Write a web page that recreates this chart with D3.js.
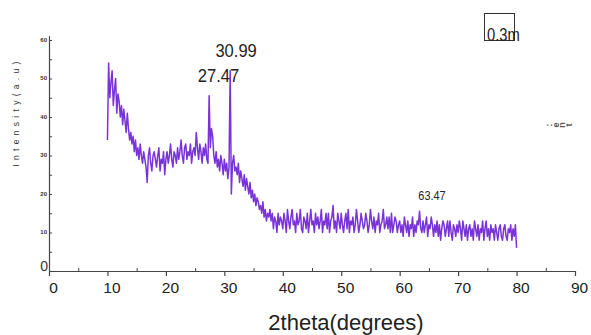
<!DOCTYPE html>
<html>
<head>
<meta charset="utf-8">
<script src="https://cdn.jsdelivr.net/npm/d3@7"></script>
<style>
  body { margin: 0; background: #fff; }
  svg { display: block; font-family: "Liberation Sans", Arial, sans-serif; }
</style>
</head>
<body>
<div id="chart"></div>
<script>
// 2theta scan, sampled every 0.2 degree starting at 10
const thetaStart = 10;
const thetaStep = 0.2;
const intensity = [
  34, 54, 45, 49, 52, 43, 47, 50, 41, 46,
  44, 40, 43, 38, 42, 39, 36, 41, 37, 34,
  36, 33, 35, 31, 34, 30, 32, 29, 33, 30,
  28, 31, 29, 27, 23, 30, 32, 28, 26, 30,
  31, 29, 27, 30, 32, 26, 29, 28, 31, 25,
  29, 31, 28, 30, 33, 29, 27, 31, 30, 28,
  32, 29, 31, 34, 30, 28, 32, 33, 29, 31,
  30, 33, 28, 31, 32, 30, 36, 32, 29, 33,
  31, 28, 32, 30, 33, 29, 28, 45.5, 32, 37,
  35, 30, 28, 31, 27, 29, 26, 30, 28, 25,
  29, 26, 28, 24, 27, 52, 20, 28, 30, 26,
  27, 25, 28, 23, 26, 24, 22, 25, 21, 24,
  22, 20, 23, 19, 21, 18, 20, 17, 19, 18,
  16, 17, 15, 18, 14, 16, 13, 15, 14, 16,
  13, 15, 11, 14, 13, 10, 15, 12, 14, 13,
  11, 15, 13, 10, 16, 13, 11, 14, 16, 12,
  13, 10, 15, 12, 13, 16, 11, 10, 14, 13,
  11, 15, 10, 13, 16, 12, 13, 10, 15, 12,
  14, 11, 13, 16, 10, 13, 12, 15, 11, 15,
  10, 13, 14, 17, 11, 13, 10, 15, 13, 11,
  15, 12, 10, 13, 15, 11, 16, 10, 13, 12,
  14, 10, 12, 16, 13, 10, 12, 15, 13, 11,
  12, 15, 13, 10, 12, 16, 13, 11, 14, 10,
  13, 12, 15, 10, 12, 13, 16, 11, 12, 14,
  11, 14, 10, 15, 10, 12, 14, 13, 10, 12,
  13, 10, 12, 9, 14, 12, 10, 13, 9, 12,
  11, 14, 9, 12, 10, 13, 12, 15.5, 11, 10,
  13, 10, 12, 14, 9, 12, 11, 14, 12, 9,
  12, 10, 13, 9, 12, 8, 11, 13, 12, 9,
  11, 13, 9, 13, 10, 8, 12, 11, 9, 12,
  10, 13, 11, 8, 13, 11, 9, 12, 8, 11,
  12, 9, 11, 8, 13, 11, 9, 12, 8, 11,
  10, 13, 8, 11, 13, 9, 11, 8, 12, 10,
  11, 8, 12, 10, 8, 11, 12, 9, 8, 11,
  12, 9, 8, 11, 10, 12, 8, 11, 9, 12,
  6
];

// peak labels
const peakTheta = [27.47, 30.99, 63.47];
const peakLabels = ['27.47', '30.99', '63.47'];
const peakLabelY = [49, 55.5, 18.5];

const xTicks = [0, 10, 20, 30, 40, 50, 60, 70, 80, 90];
const xMinorTicks = [5, 15, 25, 35, 45, 55, 65, 75, 85];
const yTicks = [0, 10, 20, 30, 40, 50, 60];
const yMinorTicks = [5, 15, 25, 35, 45, 55];

const width = 591;
const height = 335;

const x = d3.scaleLinear().domain([0, 90]).range([49, 575]);
const y = d3.scaleLinear().domain([0, 60]).range([271, 40]);

const points = intensity.map((v, i) => [thetaStart + i * thetaStep, v]);

const svg = d3.select('#chart')
  .append('svg')
  .attr('width', width)
  .attr('height', height);

// x axis, major ticks pointing down
const xAxis = svg.append('g')
  .attr('transform', `translate(0,${y(0)})`)
  .call(d3.axisBottom(x).tickValues(xTicks).tickSize(5).tickPadding(6).tickSizeOuter(0));
xAxis.select('.domain').attr('stroke', '#444').attr('stroke-width', 1.2);
xAxis.selectAll('.tick line').attr('stroke', '#444').attr('stroke-width', 1.2);
xAxis.selectAll('.tick text')
  .attr('font-size', 15.5)
  .attr('fill', '#222')
  .attr('dx', 4)
  .attr('font-family', '"Liberation Sans", Arial, sans-serif');

svg.append('g')
  .attr('transform', `translate(0,${y(0)})`)
  .call(d3.axisTop(x).tickValues(xMinorTicks).tickSize(3).tickFormat(''))
  .call(g => g.select('.domain').remove())
  .selectAll('.tick line').attr('stroke', '#444');

// y axis, ticks pointing inside
const yAxis = svg.append('g')
  .attr('transform', `translate(${x(0)},0)`)
  .call(d3.axisLeft(y).tickValues(yTicks).tickSize(-3).tickPadding(2).tickSizeOuter(0));
yAxis.select('.domain').attr('stroke', '#444').attr('stroke-width', 1.2)
  .attr('d', `M0.5,${y(0)}V${y(61)}`);
yAxis.selectAll('.tick line').attr('stroke', '#444');
yAxis.selectAll('.tick text')
  .attr('fill', '#333')
  .attr('font-family', '"Liberation Sans Narrow", "Liberation Sans", Arial, sans-serif')
  .attr('font-weight', d => d === 0 ? 'normal' : 'bold')
  .attr('font-size', d => d === 0 ? 14 : 6)
  .attr('dy', d => d === 0 ? '-0.05em' : '0.2em')
  .attr('x', d => d === 0 ? -1 : -2);

svg.append('g')
  .attr('transform', `translate(${x(0)},0)`)
  .call(d3.axisRight(y).tickValues(yMinorTicks).tickSize(3).tickFormat(''))
  .call(g => g.select('.domain').remove())
  .selectAll('.tick line').attr('stroke', '#444');

// the pattern
const line = d3.line()
  .x(d => x(d[0]))
  .y(d => y(d[1]));

svg.append('path')
  .datum(points)
  .attr('fill', 'none')
  .attr('stroke', '#7a33d9')
  .attr('stroke-width', 1.5)
  .attr('stroke-linejoin', 'round')
  .attr('d', line);

// peak labels
const peakDx = [9, 6, 12];
const peakSize = [19, 19, 12.5];
svg.selectAll('.peak')
  .data(peakTheta)
  .enter()
  .append('text')
  .attr('class', 'peak')
  .attr('x', (d, i) => x(d) + peakDx[i])
  .attr('y', (d, i) => y(peakLabelY[i]))
  .attr('text-anchor', 'middle')
  .attr('font-size', (d, i) => peakSize[i])
  .attr('fill', '#222')
  .attr('transform', (d, i) => {
    const px = x(d) + peakDx[i];
    const py = y(peakLabelY[i]);
    return `translate(${px},${py}) scale(0.87,1) translate(${-px},${-py})`;
  })
  .text((d, i) => peakLabels[i]);

// axis titles
svg.append('text')
  .attr('x', 346)
  .attr('y', 330)
  .attr('text-anchor', 'middle')
  .attr('font-size', 22)
  .attr('fill', '#222')
  .text('2theta(degrees)');

svg.append('text')
  .attr('transform', 'rotate(-90)')
  .attr('x', -112)
  .attr('y', 19)
  .attr('text-anchor', 'middle')
  .attr('font-size', 8.5)
  .attr('letter-spacing', 4.3)
  .attr('fill', '#333')
  .text('Intensity(a.u)');

// scale box at top right
svg.append('rect')
  .attr('x', 484.5)
  .attr('y', 13.5)
  .attr('width', 30)
  .attr('height', 27)
  .attr('fill', 'none')
  .attr('stroke', '#333')
  .attr('stroke-width', 1);

svg.append('text')
  .attr('x', 487)
  .attr('y', 41)
  .attr('font-size', 18)
  .attr('fill', '#222')
  .attr('transform', 'translate(487,41) scale(0.82,1) translate(-487,-41)')
  .text('0.3m');

// stray rotated glyphs on the right
const stray = [':', 'e', 'n', 't'];
svg.selectAll('.stray')
  .data(stray)
  .enter()
  .append('text')
  .attr('class', 'stray')
  .attr('transform', (d, i) => `translate(${549 + i * 6.5},125) rotate(-90)`)
  .attr('text-anchor', 'middle')
  .attr('dy', '0.35em')
  .attr('font-size', 9)
  .attr('font-weight', 'bold')
  .attr('fill', '#555')
  .text(d => d);
</script>
</body>
</html>
